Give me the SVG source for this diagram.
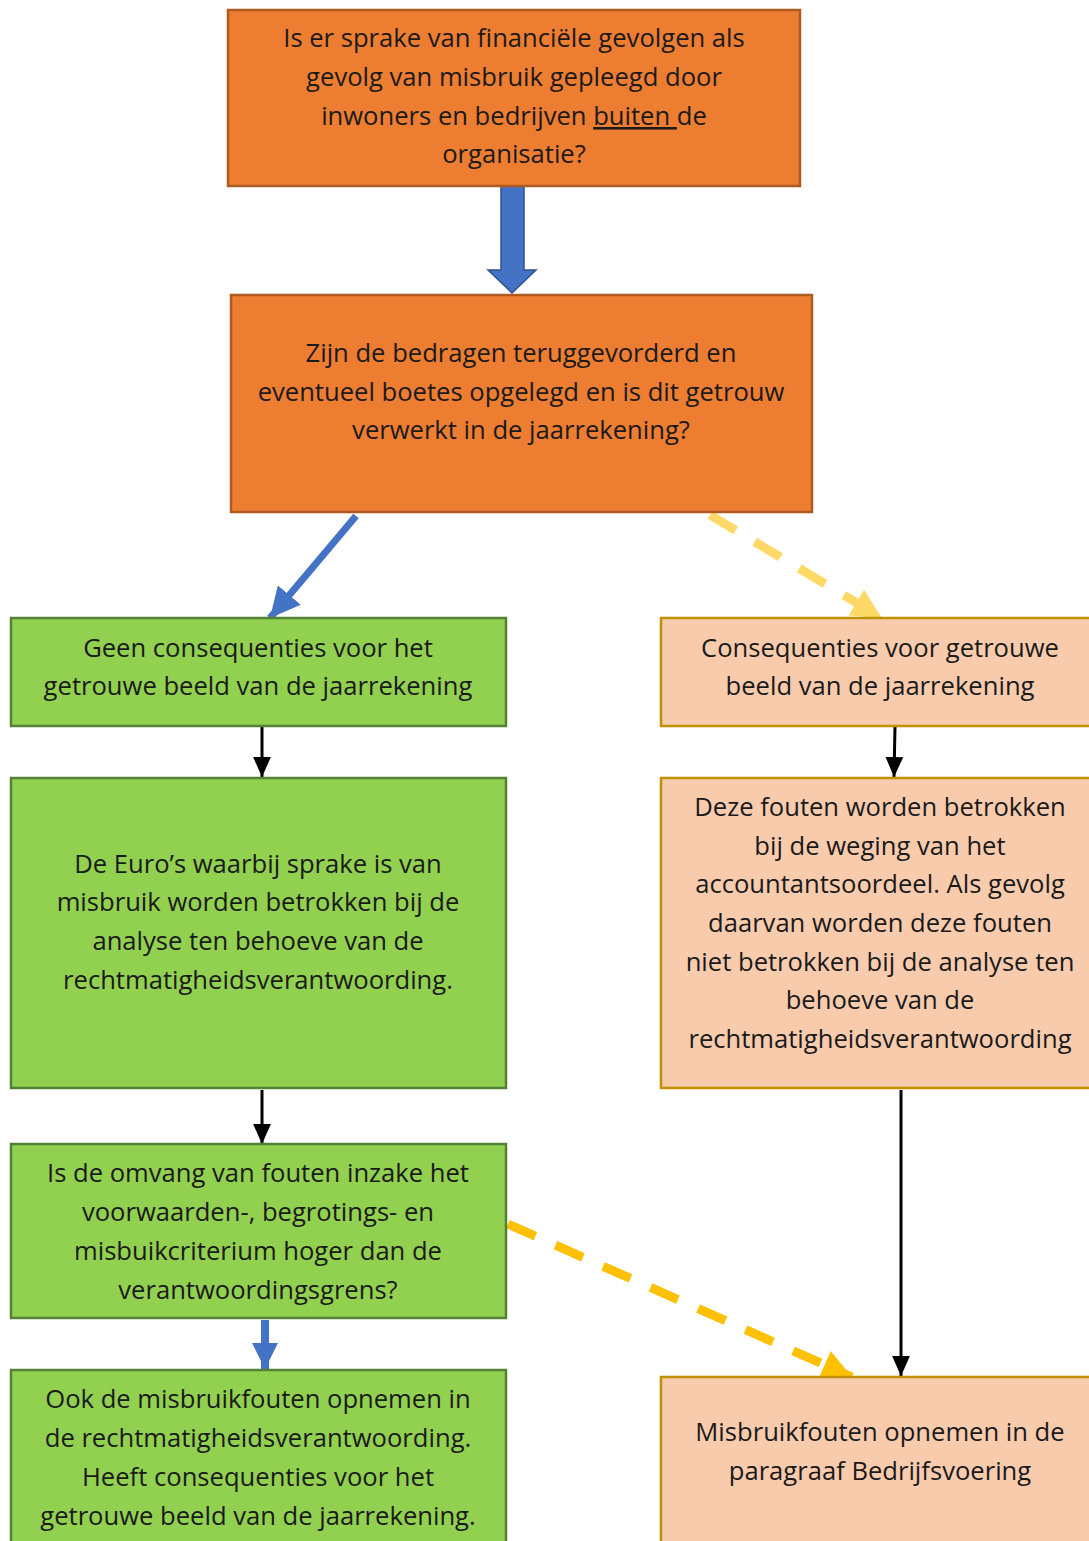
<svg xmlns="http://www.w3.org/2000/svg" width="1089" height="1541" viewBox="0 0 1089 1541">
<style>
.t{font-family:"Open Sans","Noto Sans","Liberation Sans",sans-serif;font-size:25.6px;fill:#1a1a1a;text-anchor:middle}
.or{fill:#ED7D31;stroke:#AE5A21;stroke-width:2.5}
.gr{fill:#92D050;stroke:#538135;stroke-width:2.5}
.pe{fill:#F8CBAD;stroke:#BF9000;stroke-width:2.5}
.blk{stroke:#000;stroke-width:3;fill:none}
</style>
<defs>
<marker id="ab" markerUnits="userSpaceOnUse" markerWidth="20" markerHeight="20" refX="18" refY="9" orient="auto" viewBox="0 0 18 18"><path d="M0,1 L18,9 L0,17 Z" fill="#000"/></marker>
<marker id="ablue" markerUnits="userSpaceOnUse" markerWidth="30" markerHeight="30" refX="30" refY="15" orient="auto" viewBox="0 0 30 30"><path d="M0,0 L30,15 L0,30 Z" fill="#4472C4"/></marker>
<marker id="ablue2" markerUnits="userSpaceOnUse" markerWidth="26" markerHeight="26" refX="26" refY="13" orient="auto" viewBox="0 0 26 26"><path d="M0,0 L26,13 L0,26 Z" fill="#4472C4"/></marker>
<marker id="ay1" markerUnits="userSpaceOnUse" markerWidth="30" markerHeight="30" refX="30" refY="15" orient="auto" viewBox="0 0 30 30"><path d="M0,0 L30,15 L0,30 Z" fill="#FFD966"/></marker>
<marker id="ay2" markerUnits="userSpaceOnUse" markerWidth="30" markerHeight="30" refX="30" refY="15" orient="auto" viewBox="0 0 30 30"><path d="M0,0 L30,15 L0,30 Z" fill="#FFC000"/></marker>
</defs>
<g id="connectors">
<path d="M501,186 L524,186 L524,270 L536,270 L512,293 L488,270 L501,270 Z" fill="#4472C4" stroke="#2F528F" stroke-width="1.5"/>
<line x1="356" y1="516" x2="270" y2="618" stroke="#4472C4" stroke-width="7" marker-end="url(#ablue)"/>
<line x1="710" y1="515" x2="882" y2="618" stroke="#FFD966" stroke-width="9" stroke-dasharray="30,22" marker-end="url(#ay1)"/>
<line x1="262" y1="727" x2="262" y2="777" class="blk" marker-end="url(#ab)"/>
<line x1="895" y1="727" x2="894" y2="777" class="blk" marker-end="url(#ab)"/>
<line x1="262" y1="1090" x2="262" y2="1144" class="blk" marker-end="url(#ab)"/>
<line x1="901" y1="1090" x2="901" y2="1376" class="blk" marker-end="url(#ab)"/>
<line x1="265" y1="1320" x2="265" y2="1369" stroke="#4472C4" stroke-width="8" marker-end="url(#ablue2)"/>
<line x1="508" y1="1224" x2="852" y2="1377" stroke="#FFC000" stroke-width="9" stroke-dasharray="30,22" marker-end="url(#ay2)"/>
</g>
<g id="n1"><rect class="or" x="228" y="10" width="572" height="176"/>
<text class="t" x="514" y="47">Is er sprake van financiële gevolgen als</text>
<text class="t" x="514" y="86">gevolg van misbruik gepleegd door</text>
<text class="t" x="514" y="125">inwoners en bedrijven <tspan text-decoration="underline">buiten </tspan>de</text>
<text class="t" x="514" y="163">organisatie?</text></g>
<g id="n2"><rect class="or" x="231" y="295" width="581" height="217"/>
<text class="t" x="521" y="362">Zijn de bedragen teruggevorderd en</text>
<text class="t" x="521" y="401">eventueel boetes opgelegd en is dit getrouw</text>
<text class="t" x="521" y="439">verwerkt in de jaarrekening?</text></g>
<g id="n3"><rect class="gr" x="11" y="618" width="495" height="108"/>
<text class="t" x="258" y="657">Geen consequenties voor het</text>
<text class="t" x="258" y="695">getrouwe beeld van de jaarrekening</text></g>
<g id="n4"><rect class="pe" x="661" y="618" width="440" height="108"/>
<text class="t" x="880" y="657">Consequenties voor getrouwe</text>
<text class="t" x="880" y="695">beeld van de jaarrekening</text></g>
<g id="n5"><rect class="gr" x="11" y="778" width="495" height="310"/>
<text class="t" x="258" y="873">De Euro’s waarbij sprake is van</text>
<text class="t" x="258" y="911">misbruik worden betrokken bij de</text>
<text class="t" x="258" y="950">analyse ten behoeve van de</text>
<text class="t" x="258" y="989">rechtmatigheidsverantwoording.</text></g>
<g id="n6"><rect class="pe" x="661" y="778" width="440" height="310"/>
<text class="t" x="880" y="816">Deze fouten worden betrokken</text>
<text class="t" x="880" y="855">bij de weging van het</text>
<text class="t" x="880" y="893">accountantsoordeel. Als gevolg</text>
<text class="t" x="880" y="932">daarvan worden deze fouten</text>
<text class="t" x="880" y="971">niet betrokken bij de analyse ten</text>
<text class="t" x="880" y="1009">behoeve van de</text>
<text class="t" x="880" y="1048">rechtmatigheidsverantwoording</text></g>
<g id="n7"><rect class="gr" x="11" y="1144" width="495" height="174"/>
<text class="t" x="258" y="1182">Is de omvang van fouten inzake het</text>
<text class="t" x="258" y="1221">voorwaarden-, begrotings- en</text>
<text class="t" x="258" y="1260">misbuikcriterium hoger dan de</text>
<text class="t" x="258" y="1299">verantwoordingsgrens?</text></g>
<g id="n8"><rect class="gr" x="11" y="1370" width="495" height="190"/>
<text class="t" x="258" y="1408">Ook de misbruikfouten opnemen in</text>
<text class="t" x="258" y="1447">de rechtmatigheidsverantwoording.</text>
<text class="t" x="258" y="1486">Heeft consequenties voor het</text>
<text class="t" x="258" y="1525">getrouwe beeld van de jaarrekening.</text></g>
<g id="n9"><rect class="pe" x="661" y="1377" width="440" height="190"/>
<text class="t" x="880" y="1441">Misbruikfouten opnemen in de</text>
<text class="t" x="880" y="1480">paragraaf Bedrijfsvoering</text></g>
</svg>
